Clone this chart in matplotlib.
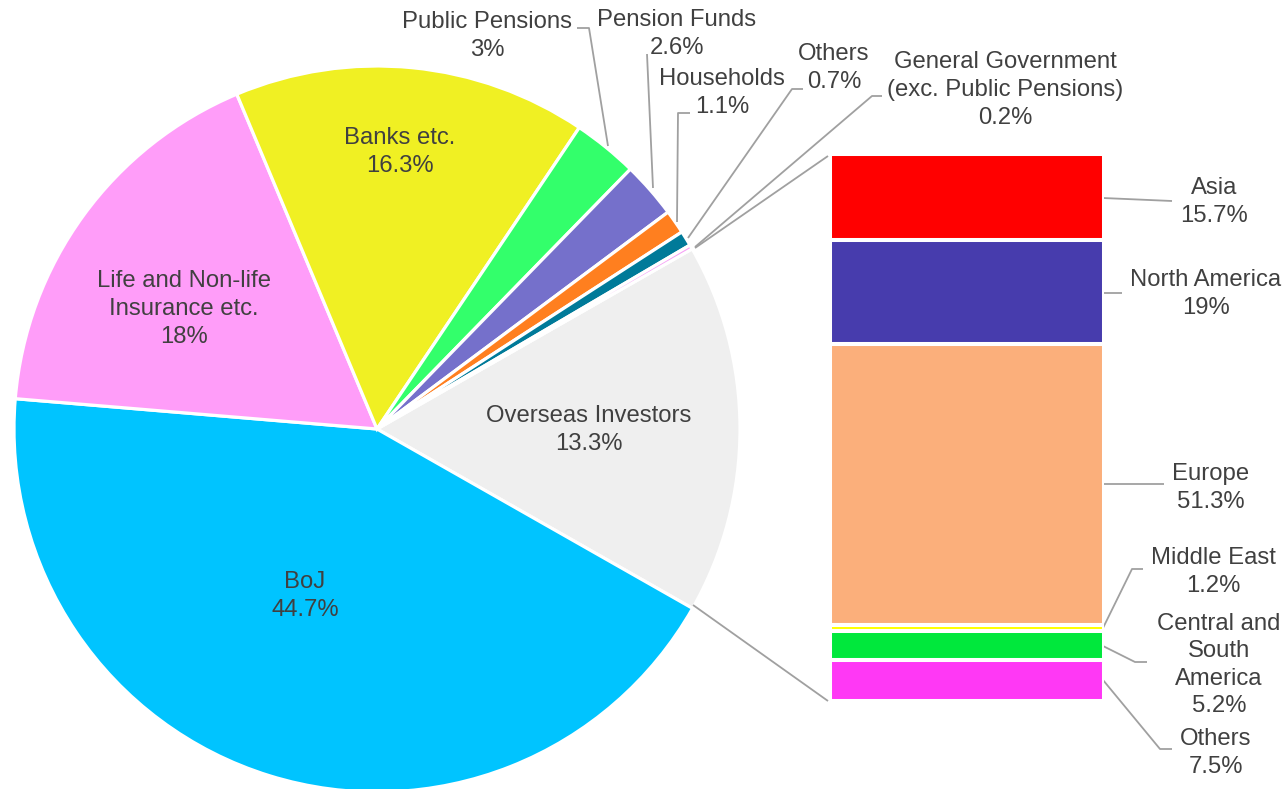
import matplotlib
matplotlib.use("Agg")
import matplotlib.pyplot as plt
import numpy as np

# ---------------- data ----------------
sectors = ["Overseas Investors", "BoJ", "Life and Non-life\nInsurance etc.", "Banks etc.",
           "Public Pensions", "Pension Funds", "Households", "Others",
           "General Government\n(exc. Public Pensions)"]
sector_share = [13.3, 44.7, 18, 16.3, 3, 2.6, 1.1, 0.7, 0.2]
# the reference draws the overseas slice larger than its label (about 17.1 units wide)
overseas_drawn_weight = 17.1
sector_colors = ["#EFEFEF", "#00C4FF", "#FF9DF9", "#F0F023", "#33FF6B",
                 "#7570CB", "#FF7F1F", "#007A99", "#F5A0F5"]

regions = ["Asia", "North America", "Europe", "Middle East",
           "Central and\nSouth\nAmerica", "Others"]
region_share = [15.7, 19, 51.3, 1.2, 5.2, 7.5]
region_colors = ["#FF0000", "#473CAD", "#FBAF7B", "#FFFF00", "#00E83C", "#FF38F5"]

# ---------------- figure ----------------
W, H = 1286, 789
fig = plt.figure(figsize=(W / 100, H / 100), dpi=100)
ax = fig.add_axes([0, 0, 1, 1])

def Y(y):
    return H - y

TXT = "#404040"
LINE = "#A0A0A0"
FS = 17.2
FONT = "Liberation Sans"
LS = 1.33
DY = 2  # vertical nudge for text

pie_sizes = [overseas_drawn_weight] + sector_share[1:]
ax.pie(pie_sizes, colors=sector_colors, startangle=29.75, counterclock=False,
       center=(377, Y(429)), radius=363,
       wedgeprops=dict(edgecolor="white", linewidth=2.3))
ax.set_xlim(0, W)
ax.set_ylim(0, H)
ax.set_aspect("equal")
ax.axis("off")

def fmt(v):
    return f"{v:g}%"

# label positions (pixel centres)
label_pos = [(589, 428), (305, 594), (184, 307), (400, 150), (487, 34),
             (677, 32), (722, 91), (834, 66), (1005, 88)]
for name, v, (x, y) in zip(sectors, sector_share, label_pos):
    ax.text(x, Y(y + DY), f"{name}\n{fmt(v)}", ha="center", va="center",
            multialignment="center", fontsize=FS, color=TXT, family=FONT,
            linespacing=LS)

def poly(pts):
    xs = [p[0] for p in pts]
    ys = [Y(p[1]) for p in pts]
    ax.plot(xs, ys, color=LINE, lw=1.3, solid_capstyle="butt")

# leader lines for small slices
poly([(577, 28), (589, 28), (608, 146)])
poly([(647, 54), (653, 188)])
poly([(690, 113), (678, 113), (677, 222)])
poly([(803, 89), (792, 89), (688, 238)])
poly([(882, 96), (872, 96), (695, 247)])
# connectors pie -> bar
poly([(695, 248), (828, 156)])
poly([(693, 605), (828, 701)])
# bar leader lines
poly([(1103, 198), (1172, 201)])
poly([(1103, 293), (1122, 293)])
poly([(1103, 484), (1164, 484)])
poly([(1143, 569), (1132, 569), (1103, 628)])
poly([(1147, 662), (1135, 662), (1103, 646)])
poly([(1172, 749), (1160, 749), (1103, 680)])

# ---------------- stacked bar ----------------
bx0, bx1, by0, by1 = 830, 1104, 154, 701
ax2 = fig.add_axes([bx0 / W, (H - by1) / H, (bx1 - bx0) / W, (by1 - by0) / H])
bottoms = np.concatenate([[0], np.cumsum(region_share)[:-1]])
ax2.bar([0] * len(region_share), region_share, bottom=bottoms, width=1,
        color=region_colors, edgecolor="white", linewidth=2.9)
ax2.set_xlim(-0.5, 0.5)
ax2.set_ylim(sum(region_share), 0)
ax2.axis("off")

region_pos = [(1214, 200), (1206, 292), (1211, 486), (1213, 570), (1219, 663), (1216, 751)]
for name, v, (x, y) in zip(regions, region_share, region_pos):
    ax.text(x, Y(y + DY), f"{name}\n{fmt(v)}", ha="center", va="center",
            multialignment="center", fontsize=FS, color=TXT, family=FONT,
            linespacing=LS)

fig.savefig("out.png", dpi=100)
